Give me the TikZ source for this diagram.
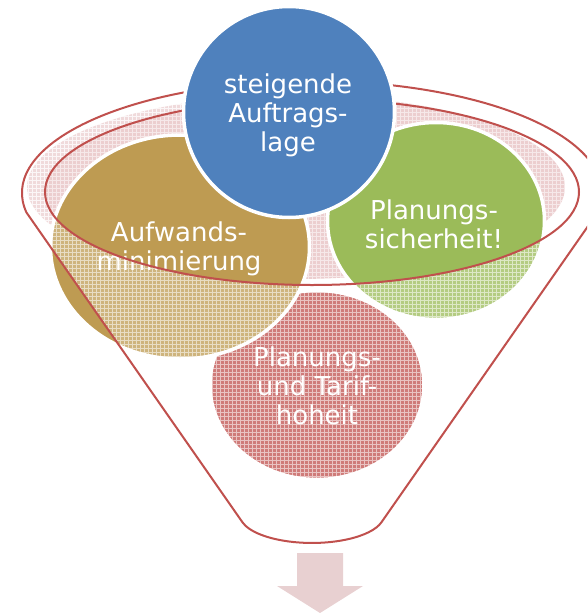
\documentclass[tikz,border=0pt]{standalone}
\usepackage{fontspec}
\newfontfamily\lblfont{DejaVu Sans}
\usetikzlibrary{shapes.geometric}
\definecolor{cblue}{RGB}{79,129,189}
\definecolor{cbrown}{RGB}{190,155,82}
\definecolor{cgreen}{RGB}{155,187,89}
\definecolor{cred}{RGB}{192,80,77}
\definecolor{crim}{RGB}{236,206,207}
\definecolor{carrow}{RGB}{232,208,209}
\begin{document}
\begin{tikzpicture}[x=1pt,y=-1pt,
  bubble/.style={ellipse, draw=white, line width=3.5pt, inner sep=0pt},
  bubbletext/.style={text=white, align=center, inner sep=0pt, font=\lblfont\fontsize{26}{29}\selectfont},
  funnelline/.style={draw=cred, line width=2pt},
  gridlines/.style={draw=white, line width=0.8pt, draw opacity=0.55},
  funnelshape/.style={insert path={(26.4,212.4) arc[start angle=170,end angle=370,x radius=290,y radius=112]
     -- (381.5,522.2) arc[start angle=15,end angle=165,x radius=72,y radius=28] -- cycle}},
  innerrim/.style={insert path={(312,192) ellipse[x radius=267,y radius=93]}},
  rimshape/.style={insert path={(296,187) ellipse[x radius=269,y radius=92]}}]
\useasboundingbox (0,0) rectangle (587,613);
\clip (0,0) rectangle (587,613);

% pink rim fill with its grid
\fill[crim, rimshape];
\begin{scope}
  \clip[rimshape];
  \path[gridlines] (0,0) grid[step=4pt] (588,614);
\end{scope}

% bubbles below the top one
\node[bubble, fill=cred, minimum width=214pt, minimum height=189pt] (tarif) at (317,385) {};
\node[bubble, fill=cgreen, minimum width=217pt, minimum height=197pt] (sicher) at (436,221) {};
\node[bubble, fill=cbrown, minimum width=259pt, minimum height=224pt] (aufwand) at (180,247) {};

% funnel body overlay (funnel minus its mouth)
\fill[white, fill opacity=0.25, even odd rule, funnelshape, innerrim];
\begin{scope}[even odd rule]
  \clip[funnelshape, innerrim];
  \path[gridlines] (0,0) grid[step=4pt] (588,614);
\end{scope}

% labels of the lower bubbles
\node[bubbletext] (tariftext) at (317,386) {Planungs-\\und Tarif-\\hoheit};
\node[bubbletext] (sichertext) at (434,224) {Planungs-\\sicherheit!};
\node[bubbletext] (aufwandtext) at (179,249) {Aufwands-\\minimierung};

% funnel outlines
\path[funnelline, funnelshape];
\path[funnelline, innerrim];

% top bubble
\node[bubble, fill=cblue, minimum width=211pt, minimum height=211pt] (auftrag) at (289,112) {};
\node[bubbletext] (auftragtext) at (288,115) {steigende\\Auftrags-\\lage};

% output arrow
\fill[carrow] (297,553) -- (343,553) -- (343,586) -- (363,586) -- (320,613) -- (277,586) -- (297,586) -- cycle;
\end{tikzpicture}
\end{document}
